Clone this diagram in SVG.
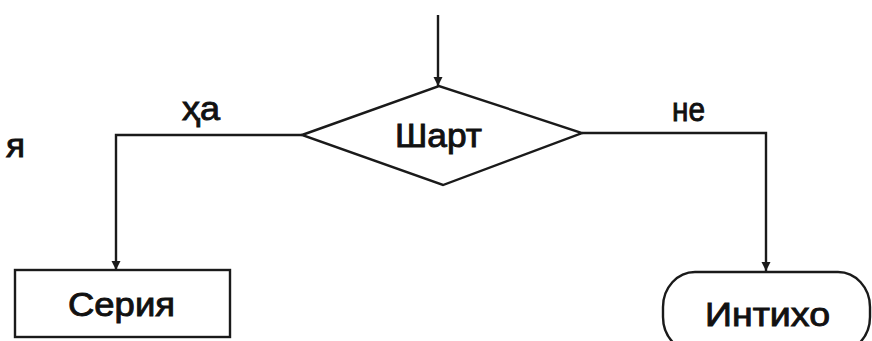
<svg xmlns="http://www.w3.org/2000/svg" width="872" height="341" viewBox="0 0 872 341">
<style>
.shape{fill:none;stroke:#1a1a1a;stroke-width:2.4}
.line{fill:none;stroke:#1a1a1a;stroke-width:2.4}
.t{font-family:"Liberation Sans",Arial,sans-serif;font-size:33px;fill:#111;stroke:#111;stroke-width:0.9}
</style>
<defs>
<marker id="arr" viewBox="0 0 10 10" refX="10" refY="5" markerWidth="9" markerHeight="10" markerUnits="userSpaceOnUse" orient="auto">
<path d="M0,0 L10,5 L0,10 Z" fill="#1a1a1a"/>
</marker>
</defs>
<rect width="872" height="341" fill="#ffffff"/>
<g id="connectors">
<line class="line" x1="438" y1="15" x2="438" y2="86" marker-end="url(#arr)"/>
<polyline class="line" points="302,135 116,135 116,270" marker-end="url(#arr)"/>
<polyline class="line" points="582,133 766,133 766,271" marker-end="url(#arr)"/>
<text class="t" x="182" y="120" textLength="38" lengthAdjust="spacingAndGlyphs">ҳа</text>
<text class="t" x="672" y="121" textLength="33" lengthAdjust="spacingAndGlyphs">не</text>
</g>
<g id="fragment">
<text class="t" x="6" y="157" textLength="19" lengthAdjust="spacingAndGlyphs">я</text>
</g>
<g id="node-shart">
<polygon class="shape" points="302,135 439,86 582,133 443,185"/>
<text class="t" x="395" y="147" textLength="87" lengthAdjust="spacingAndGlyphs">Шарт</text>
</g>
<g id="node-seriya">
<rect class="shape" x="15" y="270" width="215" height="67"/>
<text class="t" x="68" y="316" textLength="107" lengthAdjust="spacingAndGlyphs">Серия</text>
</g>
<g id="node-intiho">
<rect class="shape" x="663" y="272" width="207" height="80" rx="32" ry="35"/>
<text class="t" x="705" y="326" textLength="125" lengthAdjust="spacingAndGlyphs">Интихо</text>
</g>
</svg>
